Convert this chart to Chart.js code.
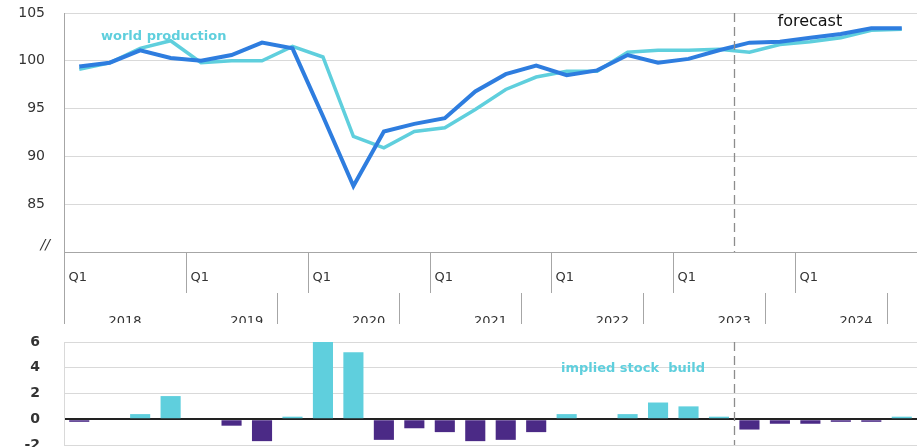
<!DOCTYPE html>
<html>
<head>
<meta charset="utf-8">
<script src="https://cdn.jsdelivr.net/npm/chart.js@4.4.1/dist/chart.umd.min.js"></script>
<style>
  html, body { margin: 0; padding: 0; background: #fff; overflow: hidden; }
  #topBox { position: absolute; left: 0; top: 0; width: 917px; height: 326px; }
  #bottomBox { position: absolute; left: 0; top: 326px; width: 917px; height: 140px; }
</style>
</head>
<body>
<div id="topBox"><canvas id="topChart"></canvas></div>
<div id="bottomBox"><canvas id="bottomChart"></canvas></div>
<script>
const years = ["2018", "2019", "2020", "2021", "2022", "2023", "2024"];
const quarterNames = ["Q1", "Q2", "Q3", "Q4"];
const quarterLabels = years.flatMap((year) => quarterNames.map((q) => `${year} ${q}`));

// index, 2019 = 100 (dark blue line, no label in the source)
const consumptionIndex = [
  99.4, 99.8, 101.1, 100.3, 100.0, 100.6, 101.9, 101.3,
  94.2, 86.9, 92.6, 93.4, 94.0, 96.8, 98.6, 99.5,
  98.5, 99.0, 100.6, 99.8, 100.2, 101.1, 101.9, 102.0,
  102.4, 102.8, 103.4, 103.4,
];

const productionIndex = [
  99.1, 99.8, 101.3, 102.1, 99.8, 100.0, 100.0, 101.5,
  100.4, 92.1, 90.9, 92.6, 93.0, 94.9, 97.0, 98.3,
  98.9, 98.9, 100.9, 101.1, 101.1, 101.2, 100.9, 101.7,
  102.0, 102.4, 103.2, 103.3,
];

const stockBuild = [
  -0.2, null, 0.4, 1.8, null, -0.5, -1.7, 0.2,
  6.0, 5.2, -1.6, -0.7, -1.0, -1.7, -1.6, -1.0,
  0.4, null, 0.4, 1.3, 1.0, 0.2, -0.8, -0.35,
  -0.35, -0.2, -0.2, 0.2,
];

const forecastStart = 22;

const BLUE = "#2e7ddf";
const CYAN = "#5fcfdd";
const PURPLE = "#4b2a86";
const AXIS_GREY = "#a6a6a6";
const GRID_GREY = "#d9d9d9";
const TEXT = "#333333";
const FONT = "'DejaVu Sans', sans-serif";

function boundaryX(xScale, index) {
  // left edge of a quarter's slot on the category scale
  const step = xScale.getPixelForValue(1) - xScale.getPixelForValue(0);
  return xScale.getPixelForValue(index) - step / 2;
}

function fixedYAxis(scale) {
  // fixed gutter, and no extra room for the tick padding above/below
  scale.width = 64;
  scale.paddingTop = 0;
  scale.paddingBottom = 0;
}

function drawForecastLine(chart, top, bottom) {
  const context = chart.ctx;
  const x = Math.round(boundaryX(chart.scales.x, forecastStart)) + 0.5;
  context.save();
  context.strokeStyle = "#8c8c8c";
  context.lineWidth = 1.3;
  context.setLineDash([9, 5]);
  context.beginPath();
  context.moveTo(x, top);
  context.lineTo(x, bottom);
  context.stroke();
  context.restore();
  return x;
}

const topAxisPlugin = {
  id: "quarterYearAxis",
  afterDraw(chart) {
    const context = chart.ctx;
    const xScale = chart.scales.x;
    const yScale = chart.scales.y;
    const area = chart.chartArea;
    const axisY = area.bottom;

    const forecastX = drawForecastLine(chart, area.top, axisY);

    context.save();
    context.strokeStyle = AXIS_GREY;
    context.lineWidth = 1;
    context.fillStyle = TEXT;

    // first row: Q1 ticks
    context.font = `13px ${FONT}`;
    context.textAlign = "left";
    context.textBaseline = "middle";
    years.forEach((year, yearIndex) => {
      const x = Math.round(boundaryX(xScale, yearIndex * 4)) + 0.5;
      context.beginPath();
      context.moveTo(x, axisY);
      context.lineTo(x, axisY + 41);
      context.stroke();
      context.fillText("Q1", x + 4, axisY + 26);
    });

    // second row: year dividers as they sit in the source chart
    [0, 7, 11, 15, 19, 23, 27].forEach((index) => {
      const x = Math.round(boundaryX(xScale, index)) + 0.5;
      context.beginPath();
      context.moveTo(x, axisY + 41);
      context.lineTo(x, axisY + 72);
      context.stroke();
    });

    context.beginPath();
    context.rect(0, axisY + 41, chart.width, 30);
    context.clip();
    context.textAlign = "center";
    context.textBaseline = "top";
    years.forEach((year, yearIndex) => {
      const x = boundaryX(xScale, yearIndex * 4 + 2);
      context.fillText(year, x, axisY + 63);
    });
    context.restore();

    context.save();
    // axis break mark
    context.fillStyle = TEXT;
    context.font = `italic 14px ${FONT}`;
    context.textAlign = "right";
    context.textBaseline = "middle";
    context.fillText("//", 50, yScale.getPixelForValue(80) - 7);

    context.font = `bold 13px ${FONT}`;
    context.fillStyle = CYAN;
    context.textAlign = "left";
    context.fillText("world production", 101, 37);

    context.font = `16px ${FONT}`;
    context.fillStyle = "#111111";
    context.fillText("forecast", forecastX + 43, 22);
    context.restore();
  },
};

const bottomPlugin = {
  id: "stockBuildNotes",
  afterDraw(chart) {
    const area = chart.chartArea;
    drawForecastLine(chart, area.top, area.bottom);
    const context = chart.ctx;
    context.save();
    context.font = `bold 13px ${FONT}`;
    context.fillStyle = CYAN;
    context.textAlign = "left";
    context.textBaseline = "middle";
    context.fillText("implied stock  build", 561, chart.scales.y.getPixelForValue(3.9));
    context.restore();
  },
};

new Chart(document.getElementById("topChart"), {
  type: "line",
  data: {
    labels: quarterLabels,
    datasets: [
      {
        label: "world consumption",
        data: consumptionIndex,
        borderColor: BLUE,
        borderWidth: 4,
        pointRadius: 0,
        tension: 0,
      },
      {
        label: "world production",
        data: productionIndex,
        borderColor: CYAN,
        borderWidth: 3.5,
        pointRadius: 0,
        tension: 0,
      },
    ],
  },
  plugins: [topAxisPlugin],
  options: {
    responsive: true,
    maintainAspectRatio: false,
    animation: false,
    layout: { padding: { top: 13, bottom: 74, left: 0, right: 0 } },
    plugins: { legend: { display: false }, tooltip: { enabled: false } },
    scales: {
      x: { display: false, offset: true },
      y: {
        min: 80,
        max: 105,
        afterFit: fixedYAxis,
        ticks: {
          stepSize: 5,
          padding: 19,
          color: TEXT,
          font: { family: FONT, size: 14 },
          callback: (value) => (value === 80 ? "" : value),
        },
        grid: {
          drawTicks: false,
          color: (ctx) => (ctx.tick && ctx.tick.value === 80 ? AXIS_GREY : GRID_GREY),
        },
        border: { color: AXIS_GREY },
      },
    },
  },
});

new Chart(document.getElementById("bottomChart"), {
  type: "bar",
  data: {
    labels: quarterLabels,
    datasets: [
      {
        label: "implied stock build",
        data: stockBuild,
        backgroundColor: (ctx) => (ctx.raw >= 0 ? CYAN : PURPLE),
        borderWidth: 0,
        barPercentage: 0.66,
        categoryPercentage: 1,
      },
    ],
  },
  plugins: [bottomPlugin],
  options: {
    responsive: true,
    maintainAspectRatio: false,
    animation: false,
    layout: { padding: { top: 16, bottom: 21, left: 0, right: 0 } },
    plugins: { legend: { display: false }, tooltip: { enabled: false } },
    scales: {
      x: { display: false, offset: true },
      y: {
        min: -2,
        max: 6,
        afterFit: fixedYAxis,
        ticks: {
          stepSize: 2,
          padding: 24,
          color: TEXT,
          font: { family: FONT, size: 14, weight: "bold" },
        },
        grid: {
          drawTicks: false,
          color: (ctx) => (ctx.tick && ctx.tick.value === 0 ? "#222222" : GRID_GREY),
          lineWidth: (ctx) => (ctx.tick && ctx.tick.value === 0 ? 2 : 1),
        },
        border: { color: GRID_GREY },
      },
    },
  },
});
</script>
</body>
</html>
